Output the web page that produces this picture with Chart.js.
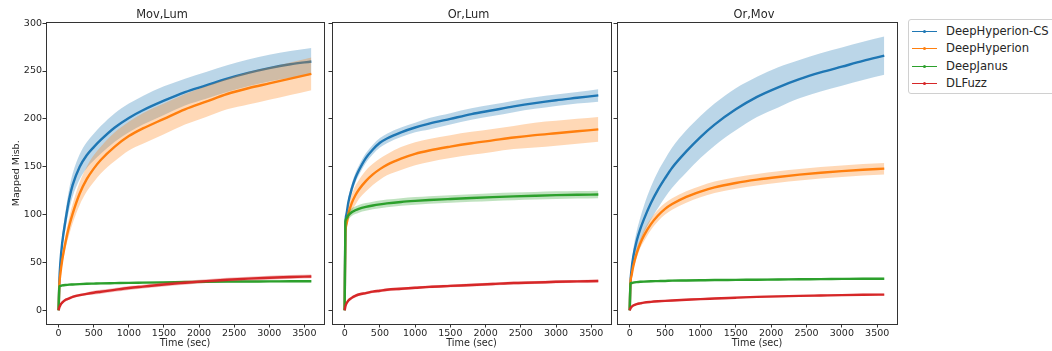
<!DOCTYPE html>
<html>
<head>
<meta charset="utf-8">
<script src="https://cdn.jsdelivr.net/npm/chart.js@4.4.1/dist/chart.umd.min.js"></script>
<style>
body { margin:0; background:#fff; width:1052px; height:351px; overflow:hidden; position:relative; font-family:'DejaVu Sans', sans-serif; }
canvas { position:absolute; left:0; top:0; }
#legend { position:absolute; left:908px; top:19px; width:160px; height:73px; border:1px solid #d0d0d0; border-radius:3px; background:#fff; }
#legend .row { position:absolute; left:0; height:17px; width:160px; }
#legend .ln { position:absolute; left:3px; top:8px; width:25px; height:1px; }
#legend .dot { position:absolute; left:11px; top:-1px; width:3px; height:3px; border-radius:50%; }
#legend .tx { position:absolute; left:37px; top:0; font-size:11.6px; line-height:17px; color:#262626; white-space:nowrap; }
</style>
</head>
<body>
<canvas id="c1" width="1052" height="351"></canvas>
<canvas id="c2" width="1052" height="351"></canvas>
<canvas id="c3" width="1052" height="351"></canvas>
<div id="legend"></div>
<script>
// sample times (sec)
var times = [0, 10, 25, 50, 100, 150, 200, 300, 400, 500, 600, 800, 1000, 1200, 1500, 1800, 2100, 2400, 2700, 3000, 3300, 3600];
var methods = ['DeepHyperion-CS', 'DeepHyperion', 'DeepJanus', 'DLFuzz'];
var colors = ['#1f77b4', '#ff7f0e', '#2ca02c', '#d62728'];
var bandColors = ['rgba(31,119,180,0.3)', 'rgba(255,127,14,0.3)', 'rgba(44,160,44,0.3)', 'rgba(214,39,40,0.3)'];
var panelTitles = ['Mov,Lum', 'Or,Lum', 'Or,Mov'];
var xTicks = [0, 500, 1000, 1500, 2000, 2500, 3000, 3500];
var yTicks = [0, 50, 100, 150, 200, 250, 300];

// Mov,Lum
var movLumCS      = [0, 30, 50, 70, 95, 116, 131, 150, 162, 170.5, 178, 191, 201, 209, 219, 228, 235, 242, 248, 253, 257, 260];
var movLumDH      = [0, 26, 38, 52, 72, 88, 101, 122, 137, 148, 157, 171, 182, 190, 200, 210, 218, 226, 232, 237, 242, 247];
var movLumDJ      = [0, 25, 25.5, 26, 26.5, 26.8, 27, 27.4, 27.7, 27.9, 28.1, 28.4, 28.7, 28.9, 29.2, 29.5, 29.8, 30, 30.1, 30.2, 30.3, 30.4];
var movLumDL      = [0, 3, 5.5, 8, 11, 12.5, 14, 15.8, 17.2, 18.4, 19.4, 21.4, 23.3, 24.8, 27, 28.8, 30.5, 32, 33.1, 34, 34.8, 35.4];
var movLumCSsd    = [0, 2, 4, 6, 9, 11, 12, 13, 13.5, 14, 14.5, 15, 15, 15, 15, 14, 14, 14, 14, 14, 14, 14];
var movLumDHsd    = [0, 2, 3, 5, 7, 9, 10, 12, 13, 14, 14, 15, 15, 16, 16, 16, 16, 16, 17, 17, 17, 17];
var movLumDJsd    = [0, 1, 1, 1, 1, 1, 1, 1, 1, 1, 1, 1, 1, 1, 1, 1, 1, 1, 1, 1, 1, 1];
var movLumDLsd    = [0, 1, 1, 1.5, 1.5, 1.5, 1.5, 1.5, 1.5, 2, 2, 2, 2, 2, 2, 2, 2, 2, 2, 2, 2, 2];

// Or,Lum
var orLumCS       = [0, 88, 100, 112, 127, 138, 146, 159, 168, 175, 179.5, 186, 191, 195, 200, 205, 209, 213, 216.5, 219.5, 222, 224.5];
var orLumDH       = [0, 80, 90, 100, 112, 120, 126, 135, 142, 147.5, 152, 158.5, 163.5, 167, 171, 174.5, 177.5, 180.5, 183, 185, 187, 189];
var orLumDJ       = [0, 93, 96, 99, 102.5, 104.5, 106, 108, 109.5, 110.7, 111.7, 113.2, 114.3, 115.2, 116.3, 117.3, 118.2, 119, 119.7, 120.3, 120.7, 121];
var orLumDL       = [0, 4, 7, 10, 13, 15, 16.5, 18, 19.5, 20.5, 21.5, 22.5, 23.5, 24.5, 25.5, 26.5, 27.5, 28.5, 29, 29.8, 30.2, 30.6];
var orLumCSsd     = [0, 3, 4, 5, 5, 5, 5, 5, 5, 5, 5, 5, 5, 6, 6, 6, 6, 6, 6, 6, 6, 6.5];
var orLumDHsd     = [0, 4, 6, 8, 9, 10, 10, 11, 11, 11, 11, 12, 12, 12, 12, 12, 12, 12, 13, 13, 13, 13];
var orLumDJsd     = [0, 3, 3, 4, 4, 4, 4, 4, 4, 4, 4, 4, 4, 4, 4, 4, 4, 4, 4, 4, 4, 4];
var orLumDLsd     = [0, 1, 1.5, 1.5, 1.5, 1.5, 1.5, 1.5, 1.5, 1.5, 1.5, 1.5, 1.5, 1.5, 1.5, 1.5, 1.5, 1.5, 1.5, 1.5, 1.5, 1.5];

// Or,Mov
var orMovCS       = [0, 28, 42, 56, 73, 85, 95, 112, 126, 138, 149, 166, 181, 194, 210, 223, 233, 241.5, 248.5, 254.5, 260.5, 266];
var orMovDH       = [0, 28, 36, 46, 60, 70, 78, 90, 99, 106, 111, 118.5, 124, 128.5, 133, 136.5, 139.3, 141.7, 143.7, 145.4, 146.8, 148];
var orMovDJ       = [0, 28, 28.5, 29, 29.5, 29.8, 30, 30.3, 30.5, 30.7, 31, 31.2, 31.4, 31.6, 31.8, 32, 32.2, 32.4, 32.6, 32.8, 33, 33];
var orMovDL       = [0, 2, 3.5, 5, 6.5, 7.3, 8, 8.8, 9.4, 9.9, 10.3, 11, 11.7, 12.3, 13.2, 14, 14.6, 15.1, 15.5, 15.9, 16.2, 16.4];
var orMovCSsd     = [0, 2, 4, 7, 10, 12, 14, 17, 19, 20, 21, 22, 22, 22, 22, 21, 21, 20, 20, 20, 20, 20];
var orMovDHsd     = [0, 2, 3, 4, 5, 5, 6, 6, 6, 6, 6, 6, 6, 6, 6, 6, 6, 6, 6, 6, 6, 6];
var orMovDJsd     = [0, 1, 1, 1, 1, 1, 1, 1, 1, 1, 1, 1, 1, 1, 1, 1, 1, 1, 1, 1, 1, 1];
var orMovDLsd     = [0, 1, 1, 1, 1, 1, 1, 1, 1, 1, 1, 1, 1, 1, 1, 1, 1, 1, 1, 1, 1, 1];

Chart.defaults.font.family = "'DejaVu Sans', sans-serif";
Chart.defaults.color = '#262626';

function pts(vals, sd, sign) {
  return times.map(function(t, i) { return { x: t, y: vals[i] + sign * sd[i] }; });
}

function buildDatasets(means, sds) {
  var ds = [];
  means.forEach(function(m, k) {
    ds.push({ data: pts(m, sds[k], 1), fill: '+1', backgroundColor: bandColors[k], borderColor: 'rgba(0,0,0,0)', borderWidth: 0, pointRadius: 0, cubicInterpolationMode: 'monotone' });
    ds.push({ data: pts(m, sds[k], -1), fill: false, borderColor: 'rgba(0,0,0,0)', borderWidth: 0, pointRadius: 0, cubicInterpolationMode: 'monotone' });
    ds.push({ data: pts(m, sds[k], 0), fill: false, borderColor: colors[k], borderWidth: 2.4, pointRadius: 0, cubicInterpolationMode: 'monotone' });
  });
  // later datasets on top
  ds.forEach(function(d, j) { d.order = 100 - j; });
  return ds;
}

var framePlugin = {
  id: 'frame',
  afterDraw: function(chart) {
    var a = chart.chartArea, c = chart.ctx;
    c.save();
    c.strokeStyle = '#333';
    c.lineWidth = 1;
    c.strokeRect(Math.round(a.left) + 0.5, Math.round(a.top) + 0.5, Math.round(a.right - a.left), Math.round(a.bottom - a.top));
    c.restore();
  }
};

function plain(v) { return String(v); }

function makePanel(id, idx, means, sds, left, right) {
  var first = idx === 0;
  var yW = first ? 46 : 6;
  return new Chart(document.getElementById(id), {
    type: 'line',
    data: { datasets: buildDatasets(means, sds) },
    plugins: [framePlugin],
    options: {
      responsive: false,
      animation: false,
      layout: { padding: { left: left - yW, right: 1052 - right, top: 0, bottom: 0 } },
      plugins: {
        legend: { display: false },
        tooltip: { enabled: false },
        title: { display: true, text: panelTitles[idx], color: '#262626', font: { size: 11.4, weight: 'normal', lineHeight: 1.2 }, padding: { top: 8, bottom: 0.8 } }
      },
      scales: {
        x: {
          type: 'linear', min: -180, max: 3780,
          afterBuildTicks: function(s) { s.ticks = xTicks.map(function(v) { return { value: v }; }); },
          afterFit: function(s) { s.height = 27; },
          grid: { drawOnChartArea: false, color: '#333', tickLength: 3.5 },
          border: { display: false },
          ticks: { font: { size: 9.5 }, padding: 0, maxRotation: 0, color: '#262626', callback: plain },
          title: { display: true, text: 'Time (sec)', font: { size: 9.7 }, padding: { top: 0, bottom: 2 }, color: '#262626' }
        },
        y: {
          type: 'linear', min: -14.3, max: 300.7,
          afterBuildTicks: function(s) { s.ticks = yTicks.map(function(v) { return { value: v }; }); },
          afterFit: function(s) { s.width = yW; },
          grid: { drawOnChartArea: false, color: '#333', tickLength: 3.5 },
          border: { display: false },
          ticks: { font: { size: 9.5 }, padding: 0.5, color: first ? '#262626' : 'rgba(0,0,0,0)', callback: plain },
          title: { display: first, text: 'Mapped Misb.', font: { size: 9.5 }, padding: { top: 10.7, bottom: 0 }, color: '#262626' }
        }
      }
    }
  });
}

makePanel('c1', 0, [movLumCS, movLumDH, movLumDJ, movLumDL], [movLumCSsd, movLumDHsd, movLumDJsd, movLumDLsd], 46, 324);
makePanel('c2', 1, [orLumCS, orLumDH, orLumDJ, orLumDL], [orLumCSsd, orLumDHsd, orLumDJsd, orLumDLsd], 332, 611);
makePanel('c3', 2, [orMovCS, orMovDH, orMovDJ, orMovDL], [orMovCSsd, orMovDHsd, orMovDJsd, orMovDLsd], 617, 897);

// legend
var rowTops = [3, 20, 38, 55];
var leg = document.getElementById('legend');
methods.forEach(function(name, k) {
  var row = document.createElement('div');
  row.className = 'row';
  row.style.top = rowTops[k] + 'px';
  row.innerHTML = '<div class="ln" style="background:' + colors[k] + '"><div class="dot" style="background:' + colors[k] + '"></div></div><div class="tx">' + name + '</div>';
  leg.appendChild(row);
});
</script>
</body>
</html>
